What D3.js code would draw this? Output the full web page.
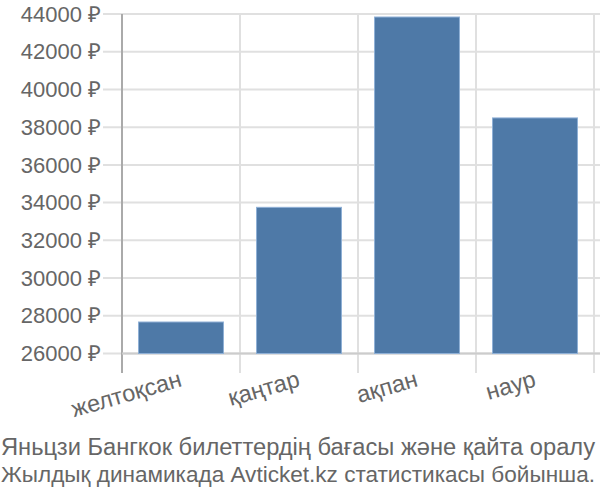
<!DOCTYPE html>
<html>
<head>
<meta charset="utf-8">
<script src="https://cdn.jsdelivr.net/npm/d3@7"></script>
<style>
  body { margin: 0; background: #fff; }
  svg { font-family: "Liberation Sans", Arial, sans-serif; }
  .grid line { stroke: #e0e0e0; stroke-width: 2; }
  text { fill: #666; }
</style>
</head>
<body>
<svg class="bar-chart" width="600" height="500"></svg>
<script>
// Static data
const months = ['желтоқсан', 'қаңтар', 'ақпан', 'наур'];
const prices = [27670, 33750, 43840, 38490];
const yTicks = [26000, 28000, 30000, 32000, 34000, 36000, 38000, 40000, 42000, 44000];
const titleLines = [
  'Яньцзи Бангкок билеттердің бағасы және қайта оралу',
  'Жылдық динамикада Avticket.kz статистикасы бойынша.'
];

const margin = { top: 14, right: 6, bottom: 146, left: 122 };
const width = 600, height = 500;

const chart = d3.select('.bar-chart');

const x = d3.scaleBand().domain(months).range([margin.left, width - margin.right]).padding(0);
const y = d3.scaleLinear().domain([26000, 44000]).range([353.5, margin.top]);

// horizontal grid
chart.append('g')
  .attr('class', 'grid')
  .selectAll('line')
  .data(yTicks)
  .enter().append('line')
  .attr('x1', 103).attr('x2', width)
  .attr('y1', d => y(d)).attr('y2', d => y(d));

// vertical grid at band edges
const edges = months.map(m => x(m) + x.bandwidth());
chart.append('g')
  .attr('class', 'grid')
  .selectAll('line')
  .data(edges)
  .enter().append('line')
  .attr('x1', d => d).attr('x2', d => d)
  .attr('y1', margin.top).attr('y2', 373);

// y axis line
chart.append('line')
  .attr('x1', margin.left).attr('x2', margin.left)
  .attr('y1', margin.top).attr('y2', 373)
  .attr('stroke', '#aaa').attr('stroke-width', 2);

// bottom axis line
chart.append('line')
  .attr('x1', margin.left).attr('x2', width)
  .attr('y1', y(26000)).attr('y2', y(26000))
  .attr('stroke', '#ccc').attr('stroke-width', 2);

// y tick labels
chart.append('g')
  .selectAll('text')
  .data(yTicks)
  .enter().append('text')
  .attr('x', 101)
  .attr('y', d => y(d))
  .attr('dy', '0.35em')
  .attr('text-anchor', 'end')
  .style('font-size', '22px')
  .text(d => d + ' ₽');

// bars
const inner = 0.28;
const barW = x.bandwidth() * (1 - inner);
chart.append('g')
  .selectAll('rect')
  .data(prices)
  .enter().append('rect')
  .attr('x', (d, i) => x(months[i]) + (x.bandwidth() - barW) / 2)
  .attr('y', d => y(d))
  .attr('width', barW)
  .attr('height', d => y(26000) - y(d))
  .attr('fill', '#4e79a7')
  .attr('stroke', '#8fb0d6')
  .attr('stroke-width', 1);

// x labels
chart.append('g')
  .selectAll('text')
  .data(months)
  .enter().append('text')
  .attr('text-anchor', 'end')
  .attr('transform', d => `translate(${x(d) + x.bandwidth() / 2 + 2}, 386) rotate(-16)`)
  .style('font-size', '23.5px')
  .text(d => d);

// title
chart.append('g')
  .selectAll('text')
  .data(titleLines)
  .enter().append('text')
  .attr('x', 1)
  .attr('y', (d, i) => 455 + i * 27)
  .attr('textLength', 594)
  .attr('lengthAdjust', 'spacingAndGlyphs')
  .style('font-size', (d, i) => i ? '22.5px' : '23.5px')
  .text(d => d);
</script>
</body>
</html>
